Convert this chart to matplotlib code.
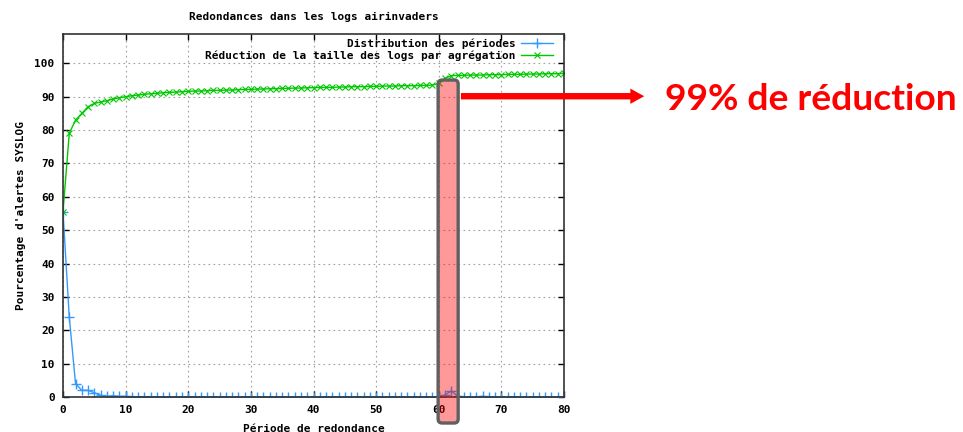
import numpy as np
import matplotlib
matplotlib.use("Agg")
import matplotlib.pyplot as plt
from matplotlib.patches import FancyBboxPatch, FancyArrowPatch, ArrowStyle

# Période de redondance (0..80)
periods = list(range(0, 81))

# Distribution des périodes (% d'alertes)
distribution = [
    55.5, 24.0, 4.0, 2.0, 2.0, 1.3, 0.5, 0.2, 0.4, 0.2,
    0.2, 0.1, 0.1, 0.1, 0.1, 0.0, 0.0, 0.0, 0.0, 0.0,
    0.0, 0.0, 0.0, 0.0, 0.0, 0.0, 0.0, 0.0, 0.0, 0.0,
    0.0, 0.0, 0.0, 0.0, 0.0, 0.0, 0.0, 0.0, 0.0, 0.0,
    0.0, 0.0, 0.0, 0.0, 0.0, 0.0, 0.0, 0.0, 0.0, 0.0,
    0.0, 0.0, 0.0, 0.0, 0.0, 0.0, 0.0, 0.0, 0.0, 0.0,
    0.1, 0.6, 1.8, 0.3, 0.0, 0.0, 0.0, 0.2, 0.0, 0.0,
    0.0, 0.0, 0.0, 0.0, 0.0, 0.0, 0.0, 0.0, 0.0, 0.0,
    0.0,
]

# Réduction de la taille des logs par agrégation (%)
reduction = [
    55.5, 79.0, 83.0, 85.0, 87.0, 88.0, 88.4, 88.8, 89.3, 89.7,
    90.0, 90.3, 90.5, 90.7, 90.9, 91.0, 91.2, 91.3, 91.4, 91.5,
    91.6, 91.7, 91.7, 91.8, 91.9, 91.9, 92.0, 92.0, 92.1, 92.2,
    92.2, 92.3, 92.3, 92.4, 92.4, 92.5, 92.5, 92.6, 92.6, 92.7,
    92.7, 92.8, 92.8, 92.8, 92.9, 92.9, 93.0, 93.0, 93.0, 93.1,
    93.1, 93.2, 93.2, 93.2, 93.3, 93.3, 93.3, 93.4, 93.4, 93.5,
    94.0, 95.5, 96.3, 96.4, 96.4, 96.5, 96.5, 96.5, 96.6, 96.6,
    96.6, 96.7, 96.7, 96.7, 96.8, 96.8, 96.8, 96.9, 96.9, 96.9,
    97.0,
]

# highlighted window (x range in data units)
window_x = (59.9, 63.1)
window_y = (-7.8, 95.0)

MONO = "DejaVu Sans Mono"
plt.rcParams["font.family"] = MONO
plt.rcParams["font.weight"] = "bold"
plt.rcParams["font.size"] = 8

fig = plt.figure(figsize=(9.63, 4.32), dpi=100)
ax = fig.add_axes([63 / 963, 35 / 432, 501 / 963, 363 / 432])

ax.plot(periods, distribution, color="#3399ff", lw=1.0, marker="+",
        ms=7, mew=1.0, label="Distribution des périodes")
ax.plot(periods, reduction, color="#00c800", lw=1.0, marker="x",
        ms=5, mew=0.8, label="Réduction de la taille des logs par agrégation")

ax.set_xlim(0, 80)
ax.set_ylim(0, 108.8)
ax.set_xticks(range(0, 81, 10))
ax.set_yticks(range(0, 101, 10))
ax.grid(True, color="#a0a0a0", linestyle=(0, (1.5, 3)), lw=0.8)
ax.tick_params(direction="in", top=True, right=True, length=4, width=1,
               labelsize=8, pad=6)
for s in ax.spines.values():
    s.set_linewidth(1.2)
    s.set_color("#333333")

ax.set_title("Redondances dans les logs airinvaders", fontsize=8,
             fontweight="bold", pad=10)
ax.set_xlabel("Période de redondance", fontsize=8, fontweight="bold", labelpad=6)
ax.set_ylabel("Pourcentage d'alertes SYSLOG", fontsize=8, fontweight="bold",
              labelpad=6)

leg = ax.legend(loc="upper right", bbox_to_anchor=(1 - 7 / 501, 1),
                frameon=False, markerfirst=False,
                fontsize=8, handlelength=2.8, borderaxespad=0.1,
                borderpad=0.3, labelspacing=0.15, handletextpad=0.5)
for t in leg.get_texts():
    t.set_ha("right")

# translucent box over the highlighted window, drawn in display pixels
(x0, y0) = ax.transData.transform((window_x[0], window_y[0]))
(x1, y1) = ax.transData.transform((window_x[1], window_y[1]))
box = FancyBboxPatch((x0, y0), x1 - x0, y1 - y0,
                     boxstyle="round,pad=0,rounding_size=4",
                     facecolor=(1, 0, 0, 0.4), edgecolor="#606060",
                     lw=2.4, transform=None, zorder=5)
fig.add_artist(box)

# red arrow to the caption
ay = ax.transData.transform((0, 90.0))[1] + 0.5
arrow = FancyArrowPatch((x1, ay), (647, ay),
                        arrowstyle=ArrowStyle.Simple(head_length=10,
                                                     head_width=11,
                                                     tail_width=4.6),
                        mutation_scale=1, color="red", lw=0,
                        transform=None, zorder=6)
fig.add_artist(arrow)

fig.text(665 / 963, (ay - 3) / 432, "99% de réduction", color="red",
         fontsize=26.8, fontweight="bold", family="Lato",
         ha="left", va="center")

fig.savefig("out.png", dpi=100, facecolor="white")
